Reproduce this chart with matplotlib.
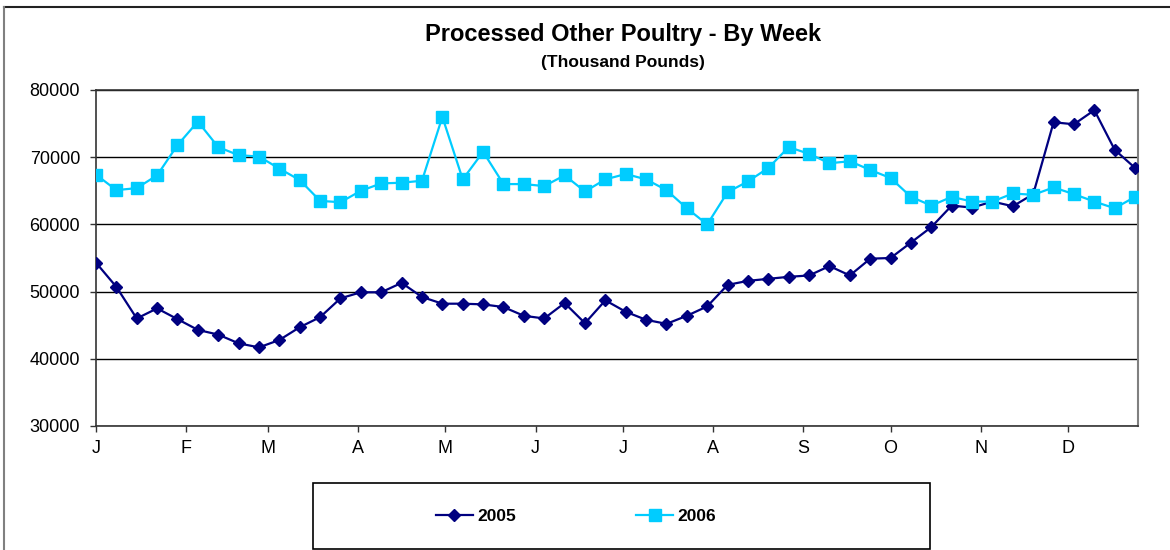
import matplotlib
matplotlib.use("Agg")
from matplotlib import pyplot as plt
from matplotlib.lines import Line2D
from matplotlib.patches import Rectangle
import numpy as np

plt.rcParams['font.family'] = ['Liberation Sans', 'DejaVu Sans']

# weekly values, thousand pounds
vals_2005 = [54300, 50700, 46000, 47500, 45900, 44300, 43600, 42300, 41700, 42800,
             44700, 46200, 49000, 49900, 49900, 51300, 49200, 48200, 48200, 48100,
             47700, 46400, 46000, 48300, 45300, 48700, 47000, 45800, 45200, 46400,
             47800, 51000, 51600, 51900, 52200, 52400, 53800, 52400, 54900, 55000,
             57300, 59600, 62800, 62500, 63400, 62700, 64500, 75200, 74900, 77000,
             71100, 68400]
vals_2006 = [67400, 65100, 65400, 67300, 71800, 75300, 71500, 70300, 70100, 68300,
             66600, 63500, 63300, 65000, 66100, 66200, 66500, 76000, 66700, 70800,
             66000, 66000, 65700, 67300, 64900, 66700, 67500, 66700, 65100, 62400,
             60000, 64800, 66400, 68400, 71500, 70500, 69100, 69400, 68100, 66900,
             64100, 62800, 64100, 63400, 63400, 64600, 64400, 65500, 64500, 63400,
             62400, 64100]
month_labels = ["J", "F", "M", "A", "M", "J", "J", "A", "S", "O", "N", "D"]
month_start = [0, 31, 59, 90, 120, 151, 181, 212, 243, 273, 304, 334]

days = np.arange(len(vals_2005)) * 7

W, H = 1170, 550
fig = plt.figure(figsize=(W / 100, H / 100), dpi=100)
ax = fig.add_axes([96 / W, (H - 426) / H, 1042 / W, 336 / H])

ax.plot(days, vals_2005, color="#000080", lw=1.6, marker="D", ms=6.2,
        mec="#000080", mfc="#000080", label="2005", zorder=3)
ax.plot(days, vals_2006, color="#00CCFF", lw=1.6, marker="s", ms=9,
        mec="#00CCFF", mfc="#00CCFF", label="2006", zorder=3)

ax.set_xlim(0, 358)
ax.set_ylim(30000, 80000)
ax.set_yticks(np.arange(30000, 80001, 10000))
ax.set_xticks(month_start)
ax.set_xticklabels(month_labels)
ax.tick_params(axis="both", labelsize=13, length=4, width=1, direction="out", color="#333333")
ax.tick_params(axis="x", pad=6)
ax.tick_params(axis="y", pad=7.5)
ax.yaxis.grid(True, color="black", lw=1)
ax.set_axisbelow(True)
for s in ["left", "bottom", "top"]:
    ax.spines[s].set_color("#333333")
    ax.spines[s].set_linewidth(1.2)
ax.spines["right"].set_color("#808080")
ax.spines["right"].set_linewidth(1.5)

# titles
fig.text(623 / W, 1 - 34 / H, "Processed Other Poultry - By Week", ha="center", va="center",
         fontsize=17, fontweight="bold")
fig.text(623 / W, 1 - 63 / H, "(Thousand Pounds)", ha="center", va="center",
         fontsize=12.5, fontweight="bold")

# chart area border (cropped at right and bottom)
fig.add_artist(Line2D([4 / W, 1.0], [1 - 7 / H, 1 - 7 / H], color="#222222", lw=1.5))
fig.add_artist(Line2D([4 / W, 4 / W], [0, 1 - 7 / H], color="#808080", lw=1.5))

# legend box
fig.add_artist(Rectangle((313 / W, 1 / H), (930 - 313) / W, (549 - 483) / H,
                         transform=fig.transFigure, fill=False, ec="black", lw=1.2))
leg = fig.legend(loc="center", bbox_to_anchor=(576 / W, 1 - 516 / H), ncol=2,
                 frameon=False, handlelength=2.15, handletextpad=0.25,
                 columnspacing=6.9, prop={"weight": "bold", "size": 12.5})

fig.savefig("out.png", dpi=100, facecolor="white")
